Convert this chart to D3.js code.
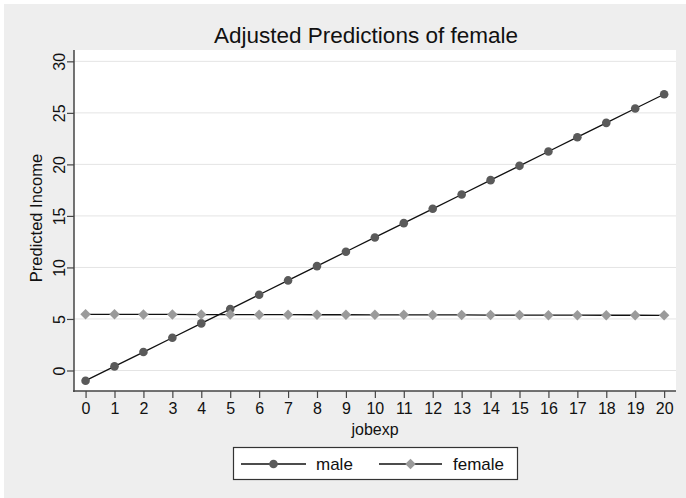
<!DOCTYPE html>
<html>
<head>
<meta charset="utf-8">
<script src="https://cdn.jsdelivr.net/npm/d3@7/dist/d3.min.js"></script>
<style>
  html, body { margin: 0; padding: 0; background: #ffffff; }
  svg { display: block; }
  text { font-family: "Liberation Sans", Arial, sans-serif; fill: #111; }
</style>
</head>
<body>
<svg id="chart" width="686" height="498"></svg>
<script>
const jobexp = [0,1,2,3,4,5,6,7,8,9,10,11,12,13,14,15,16,17,18,19,20];
const male = [-0.99,0.40,1.79,3.18,4.57,5.96,7.35,8.74,10.13,11.52,12.91,14.30,15.69,17.08,18.47,19.86,21.25,22.64,24.03,25.42,26.81];
const female = [5.45,5.45,5.44,5.44,5.43,5.43,5.42,5.42,5.41,5.41,5.40,5.40,5.39,5.39,5.38,5.38,5.37,5.37,5.36,5.36,5.35];
const yTicks = [0,5,10,15,20,25,30];
const xTicks = jobexp;
const titleText = "Adjusted Predictions of female";
const xLabel = "jobexp";
const yLabel = "Predicted Income";
const seriesNames = ["male","female"];

const svg = d3.select("#chart");
const W = 686, H = 498;
const plot = {left: 74, right: 676, top: 50, bottom: 391};

// background
svg.append("rect").attr("x",0).attr("y",0).attr("width",W).attr("height",H).attr("fill","#ffffff");
svg.append("rect").attr("x",4).attr("y",4).attr("width",W-4).attr("height",H-4).attr("fill","#eeeeee");
svg.append("rect").attr("x",plot.left).attr("y",plot.top)
  .attr("width",plot.right-plot.left).attr("height",plot.bottom-plot.top).attr("fill","#ffffff");

const x = d3.scaleLinear().domain([-0.4, 20.41]).range([plot.left, plot.right]);
const y = d3.scaleLinear().domain([-1.99, 31.1]).range([plot.bottom, plot.top]);

// gridlines
svg.append("g").selectAll("line").data(yTicks).join("line")
  .attr("x1",plot.left).attr("x2",plot.right)
  .attr("y1",d=>y(d)).attr("y2",d=>y(d))
  .attr("stroke","#e4e4e4").attr("stroke-width",1);

// axes
const yAxis = d3.axisLeft(y).tickValues(yTicks).tickSize(7).tickPadding(4);
const gy = svg.append("g").attr("transform",`translate(${plot.left},0)`).call(yAxis);
gy.select(".domain").attr("d",`M0,${plot.top}V${plot.bottom+1}`).attr("stroke","#444").attr("stroke-width",1.5);
gy.selectAll(".tick line").attr("stroke","#444").attr("stroke-width",1.2);
gy.selectAll(".tick text")
  .attr("font-size",16).attr("fill","#111")
  .attr("font-family",'"Liberation Sans", Arial, sans-serif')
  .attr("transform","translate(-13,0) rotate(-90)")
  .attr("x",0).attr("y",0).attr("dy","0").attr("text-anchor","middle")
  .attr("dominant-baseline","middle");

const xAxis = d3.axisBottom(x).tickValues(xTicks).tickSize(7).tickPadding(5);
const gx = svg.append("g").attr("transform",`translate(0,${plot.bottom})`).call(xAxis);
gx.select(".domain").attr("d",`M${plot.left-1},0H${plot.right}`).attr("stroke","#444").attr("stroke-width",1.5);
gx.selectAll(".tick line").attr("stroke","#444").attr("stroke-width",1.2);
gx.selectAll(".tick text").attr("font-size",16).attr("fill","#111")
  .attr("font-family",'"Liberation Sans", Arial, sans-serif');

// lines
const line = d3.line().x((d,i)=>x(jobexp[i])).y(d=>y(d));
svg.append("path").datum(male).attr("d",line).attr("fill","none").attr("stroke","#111").attr("stroke-width",1.3);
svg.append("path").datum(female).attr("d",line).attr("fill","none").attr("stroke","#111").attr("stroke-width",1.3);

// markers
svg.append("g").selectAll("circle").data(male).join("circle")
  .attr("cx",(d,i)=>x(jobexp[i])).attr("cy",d=>y(d)).attr("r",4.3).attr("fill","#5a5a5a");
const diamond = d3.symbol().type(d3.symbolDiamond2).size(70);
svg.append("g").selectAll("path").data(female).join("path")
  .attr("d",diamond).attr("transform",(d,i)=>`translate(${x(jobexp[i])},${y(d)})`).attr("fill","#9a9a9a");

// titles
svg.append("text").attr("x",366).attr("y",43).attr("text-anchor","middle")
  .attr("font-size",22.5).text(titleText);
svg.append("text").attr("x",(plot.left+plot.right)/2).attr("y",435).attr("text-anchor","middle")
  .attr("font-size",16).text(xLabel);
svg.append("text").attr("transform",`translate(42,${218}) rotate(-90)`).attr("text-anchor","middle")
  .attr("font-size",16.5).text(yLabel);

// legend
const lg = svg.append("g");
lg.append("rect").attr("x",233.5).attr("y",447.5).attr("width",284).attr("height",32)
  .attr("fill","#ffffff").attr("stroke","#333").attr("stroke-width",1.2);
const ly = 464;
const items = [
  {name: seriesNames[0], x1: 241, x2: 306, tx: 316},
  {name: seriesNames[1], x1: 379, x2: 442, tx: 453}
];
items.forEach((it,k)=>{
  lg.append("line").attr("x1",it.x1).attr("x2",it.x2).attr("y1",ly).attr("y2",ly)
    .attr("stroke","#111").attr("stroke-width",1.3);
  const cx = (it.x1+it.x2)/2;
  if (k===0) lg.append("circle").attr("cx",cx).attr("cy",ly).attr("r",4.3).attr("fill","#5a5a5a");
  else lg.append("path").attr("d",diamond).attr("transform",`translate(${cx},${ly})`).attr("fill","#9a9a9a");
  lg.append("text").attr("x",it.tx).attr("y",ly).attr("dy","0.35em").attr("font-size",17).text(it.name);
});
</script>
</body>
</html>
